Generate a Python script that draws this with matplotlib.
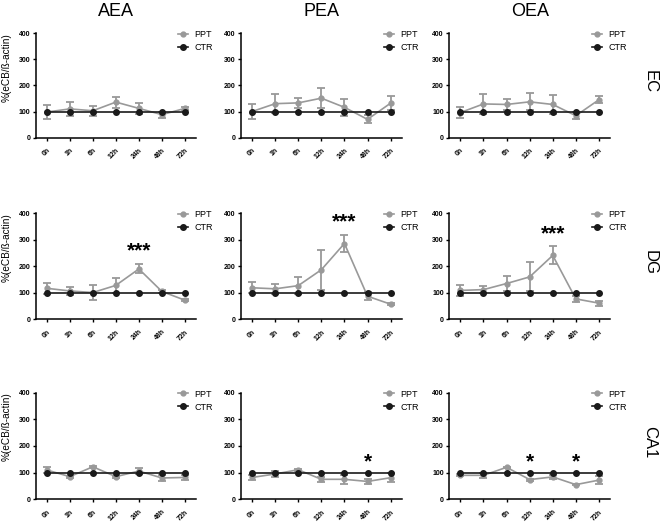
import matplotlib
matplotlib.use("Agg")
import matplotlib.pyplot as plt
import numpy as np

plt.rcParams['font.family'] = ['Liberation Sans', 'DejaVu Sans']

times = ["0h", "1h", "6h", "12h", "24h", "48h", "72h"]
compounds = ["AEA", "PEA", "OEA"]
regions = ["EC", "DG", "CA1"]

ctr_values = [100, 100, 100, 100, 100, 100, 100]

# PPT means / SEM, per region (rows) and compound (columns)
ec_aea_mean = [98, 110, 103, 136, 112, 88, 112]
ec_aea_err = [26, 27, 20, 21, 21, 12, 5]
ec_pea_mean = [100, 130, 133, 151, 116, 70, 132]
ec_pea_err = [29, 36, 19, 37, 33, 15, 27]
ec_oea_mean = [96, 129, 127, 137, 127, 84, 145]
ec_oea_err = [20, 37, 20, 33, 36, 13, 14]

dg_aea_mean = [117, 107, 101, 128, 190, 105, 72]
dg_aea_err = [21, 15, 30, 29, 17, 5, 3]
dg_pea_mean = [119, 115, 127, 187, 286, 87, 57]
dg_pea_err = [20, 19, 31, 75, 31, 16, 3]
dg_oea_mean = [109, 112, 135, 160, 241, 77, 61]
dg_oea_err = [20, 14, 28, 55, 34, 12, 9]

ca1_aea_mean = [110, 85, 122, 85, 106, 80, 82]
ca1_aea_err = [10, 4, 3, 4, 12, 10, 10]
ca1_pea_mean = [82, 95, 111, 75, 75, 67, 81]
ca1_pea_err = [10, 10, 4, 10, 17, 10, 16]
ca1_oea_mean = [90, 90, 120, 74, 84, 55, 72]
ca1_oea_err = [4, 9, 3, 4, 7, 3, 16]

ppt_means = [[ec_aea_mean, ec_pea_mean, ec_oea_mean],
             [dg_aea_mean, dg_pea_mean, dg_oea_mean],
             [ca1_aea_mean, ca1_pea_mean, ca1_oea_mean]]
ppt_errs = [[ec_aea_err, ec_pea_err, ec_oea_err],
            [dg_aea_err, dg_pea_err, dg_oea_err],
            [ca1_aea_err, ca1_pea_err, ca1_oea_err]]

# significance marks: (row, col, time label, text, y value of mark center)
sig_marks = [(1, 0, "24h", "***", 284),
             (1, 1, "24h", "***", 391),
             (1, 2, "24h", "***", 347),
             (2, 1, "48h", "*", 164),
             (2, 2, "12h", "*", 164),
             (2, 2, "48h", "*", 164)]

W, H = 661, 523
fig = plt.figure(figsize=(W / 100, H / 100), dpi=100)

col_x = [(35.7, 196.0), (241.0, 401.7), (449.3, 610.0)]
row_y = [(33.0, 137.7), (213.3, 319.3), (392.7, 499.3)]

ppt_color = "#999999"
ctr_color = "#1a1a1a"
x = np.arange(len(times))

axes = {}
for r in range(3):
    for c in range(3):
        x0, x1 = col_x[c]
        yt, yb = row_y[r]
        ax = fig.add_axes([x0 / W, 1 - yb / H, (x1 - x0) / W, (yb - yt) / H])
        axes[(r, c)] = ax
        ax.errorbar(x, ppt_means[r][c], yerr=ppt_errs[r][c], fmt='none',
                    ecolor=ppt_color, elinewidth=1.3, capsize=3, capthick=1.3, zorder=2)
        ax.plot(x, ppt_means[r][c], color=ppt_color, marker='o', markersize=3.5,
                linewidth=1.2, label="PPT", zorder=3)
        ax.plot(x, ctr_values, color=ctr_color, marker='o', markersize=4,
                linewidth=1.2, label="CTR", zorder=4)
        ax.set_xlim(-0.48, 6.48)
        ax.set_ylim(0, 400)
        ax.set_yticks([0, 100, 200, 300, 400])
        ax.set_xticks(x)
        ax.set_xticklabels(times, rotation=45, ha='right', rotation_mode='anchor')
        for s in ['top', 'right']:
            ax.spines[s].set_visible(False)
        for s in ['left', 'bottom']:
            ax.spines[s].set_linewidth(1.1)
            ax.spines[s].set_color('black')
        ax.tick_params(axis='both', length=2.5, width=1.0, pad=1.5,
                       labelsize=5)
        ax.tick_params(axis='x', pad=4)
        for lab in ax.get_xticklabels() + ax.get_yticklabels():
            lab.set_fontweight('bold')
        ax.legend(loc='upper left', bbox_to_anchor=(0.89, 1.03), frameon=False,
                  fontsize=6.5, handlelength=1.1, handletextpad=0.7,
                  labelspacing=0.45, borderpad=0, borderaxespad=0)
        if c == 0:
            ax.text(-0.179, 1.0, "%(eCB/ß-actin)", transform=ax.transAxes,
                    rotation=90, ha='center', va='top', fontsize=7.2)
        if r == 0:
            fig.text(((x0 + x1) / 2) / W, 1 - 11 / H, compounds[c],
                     ha='center', va='center', fontsize=13)
    fig.text(650 / W, 1 - ((row_y[r][0] + row_y[r][1]) / 2 - 4) / H, regions[r],
             rotation=270, ha='center', va='center', fontsize=12)

for r, c, t, txt, yv in sig_marks:
    ax = axes[(r, c)]
    fs = 15
    ax.annotate(txt, xy=(times.index(t), yv), xytext=(0, -0.57 * fs),
                textcoords='offset points', ha='center', va='baseline',
                fontsize=fs, fontweight='bold', annotation_clip=False)

fig.savefig("out.png", dpi=100)
